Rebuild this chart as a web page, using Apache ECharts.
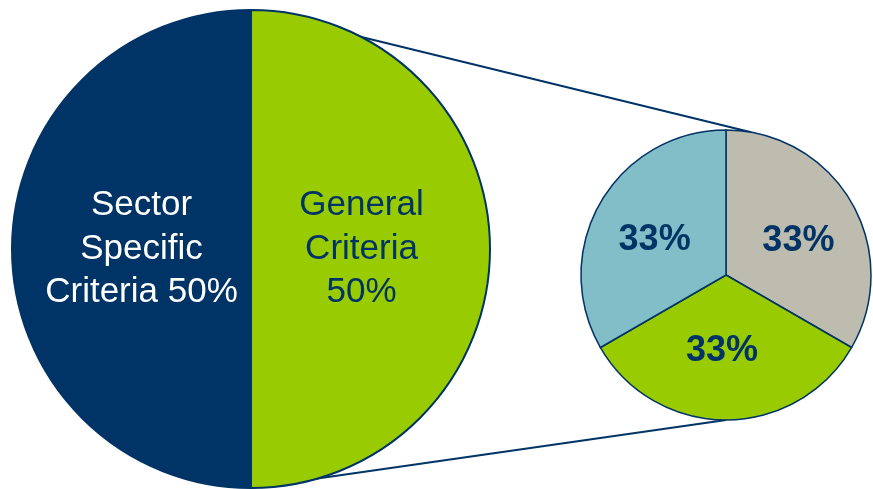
<!DOCTYPE html>
<html>
<head>
<meta charset="utf-8">
<style>html,body{margin:0;padding:0;background:#fff}#c{width:873px;height:489px}</style>
<script src="https://cdn.jsdelivr.net/npm/echarts@6/dist/echarts.min.js"></script>
</head>
<body>
<div id="c"></div>
<script>
const bigNames = ['Sector Specific Criteria', 'General Criteria'];
const bigValues = [50, 50];
const bigLabels = ['Sector\nSpecific\nCriteria 50%', 'General\nCriteria\n50%'];
const smallNames = ['Part A', 'Part B', 'Part C'];
const smallValues = [33.33, 33.33, 33.33];
const smallLabels = ['33%', '33%', '33%'];

const NAVY = '#003366';
const bigColors = [NAVY, '#99CC00'];
const bigTextColors = ['#ffffff', NAVY];
const bigOffsets = [[13, 0], [-12, 0]];
const smallColors = ['#BEBCAE', '#99CC00', '#82BEC8'];
const smallOffsets = [[7, 4], [-4, 1], [-6, 3]];

const BC = [251, 249], BR = 239;
const SC = [726, 275], SR = 145;

const chart = echarts.init(document.getElementById('c'));
const topAng = 80 * Math.PI / 180;
const topEnd = [SC[0] + SR * Math.cos(topAng), SC[1] - SR * Math.sin(topAng)];
const botEnd = [SC[0], SC[1] + SR];

chart.setOption({
  animation: false,
  graphic: [
    { type: 'line', z: 0, shape: { x1: BC[0], y1: BC[1] - BR, x2: topEnd[0], y2: topEnd[1] }, style: { stroke: NAVY, lineWidth: 2 } },
    { type: 'line', z: 0, shape: { x1: BC[0], y1: BC[1] + BR, x2: botEnd[0], y2: botEnd[1] }, style: { stroke: NAVY, lineWidth: 2 } }
  ],
  series: [
    {
      type: 'pie', center: BC, radius: BR, startAngle: 90, clockwise: false,
      silent: true, z: 3,
      itemStyle: { borderColor: NAVY, borderWidth: 2 },
      label: { position: 'inside', fontFamily: 'Liberation Sans', fontSize: 35, lineHeight: 43.5, align: 'center' },
      labelLine: { show: false },
      emphasis: { disabled: true },
      data: bigNames.map((n, i) => ({
        name: n, value: bigValues[i],
        itemStyle: { color: bigColors[i] },
        label: { formatter: bigLabels[i], color: bigTextColors[i], offset: bigOffsets[i] }
      }))
    },
    {
      type: 'pie', center: SC, radius: SR, startAngle: 90, clockwise: true,
      silent: true, z: 3,
      itemStyle: { borderColor: NAVY, borderWidth: 1.5 },
      label: { position: 'inside', fontFamily: 'Liberation Sans', fontSize: 36, fontWeight: 'bold', color: NAVY },
      labelLine: { show: false },
      emphasis: { disabled: true },
      data: smallNames.map((n, i) => ({
        name: n, value: smallValues[i],
        itemStyle: { color: smallColors[i] },
        label: { formatter: smallLabels[i], offset: smallOffsets[i] }
      }))
    }
  ]
});
</script>
</body>
</html>
